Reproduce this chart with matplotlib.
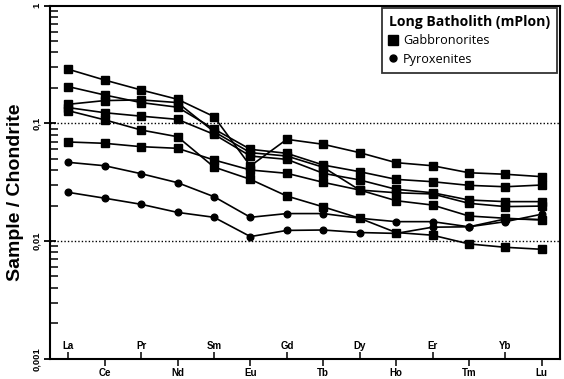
"""
REE spider diagram (chondrite normalised) for the Long Batholith (mPlon)
gabbronorites and pyroxenites.
"""
import matplotlib
matplotlib.use("Agg")
import matplotlib.pyplot as plt
from matplotlib.lines import Line2D
from matplotlib.ticker import LogLocator, NullFormatter

# REE order on the x axis
elements = ["La", "Ce", "Pr", "Nd", "Sm", "Eu", "Gd",
            "Tb", "Dy", "Ho", "Er", "Tm", "Yb", "Lu"]

# Gabbronorites (sample / chondrite)
gabbro_1 = [0.288, 0.233, 0.192, 0.160, 0.114, 0.0434, 0.0731,
            0.0663, 0.0563, 0.0463, 0.0436, 0.0380, 0.0369, 0.0352]
gabbro_2 = [0.205, 0.174, 0.150, 0.137, 0.0895, 0.0601, 0.0556,
            0.0442, 0.0388, 0.0334, 0.0319, 0.0297, 0.0289, 0.0299]
gabbro_3 = [0.145, 0.156, 0.158, 0.150, 0.0849, 0.0563, 0.0527,
            0.0423, 0.0271, 0.0257, 0.0251, 0.0209, 0.0196, 0.0198]
gabbro_4 = [0.136, 0.123, 0.115, 0.108, 0.0806, 0.0527, 0.0494,
            0.0376, 0.0330, 0.0275, 0.0257, 0.0223, 0.0216, 0.0216]
gabbro_5 = [0.128, 0.107, 0.0877, 0.0769, 0.0425, 0.0334, 0.0241,
            0.0195, 0.0156, 0.0118, 0.0112, 0.00944, 0.00884, 0.00850]
gabbro_6 = [0.0694, 0.0676, 0.0633, 0.0613, 0.0488, 0.0401, 0.0376,
            0.0315, 0.0271, 0.0220, 0.0202, 0.0163, 0.0156, 0.0151]

# Pyroxenites
pyrox_1 = [0.0466, 0.0436, 0.0373, 0.0313, 0.0238, 0.0159, 0.0171,
           0.0171, 0.0156, 0.0146, 0.0146, 0.0132, 0.0146, 0.0169]
pyrox_2 = [0.0259, 0.0231, 0.0205, 0.0175, 0.0159, 0.0109, 0.0123,
           0.0124, 0.0118, 0.0116, 0.0131, 0.0132, 0.0154, 0.0152]

gabbros = [gabbro_1, gabbro_2, gabbro_3, gabbro_4, gabbro_5, gabbro_6]
pyroxs = [pyrox_1, pyrox_2]

y_ticks = [0.001, 0.01, 0.1, 1]
y_tick_labels = ["0,001", "0,01", "0,1", "1"]
ref_lines = [0.1, 0.01]


def main():
    fig = plt.figure(figsize=(5.64, 3.79), dpi=100)
    ax = fig.add_axes([0.0887, 0.0536, 0.9043, 0.9316])

    x = list(range(len(elements)))

    for yv in ref_lines:
        ax.axhline(yv, color="black", linestyle=(0, (1, 1.5)), linewidth=1.0, zorder=1)

    for vals in gabbros:
        ax.plot(x, vals, color="black", linewidth=1.2, marker="s",
                markersize=5.5, zorder=3)
    for vals in pyroxs:
        ax.plot(x, vals, color="black", linewidth=1.2, marker="o",
                markersize=4.8, zorder=3)

    ax.set_yscale("log")
    ax.set_ylim(0.001, 1)
    ax.set_xlim(-0.5, len(elements) - 0.5)

    # y axis ticks
    ax.set_yticks(y_ticks)
    ax.set_yticklabels(y_tick_labels, rotation=90, va="center",
                       fontsize=6.8, fontweight="bold", family="Liberation Sans")
    ax.yaxis.set_minor_locator(LogLocator(base=10, subs=range(2, 10)))
    ax.yaxis.set_minor_formatter(NullFormatter())
    ax.tick_params(axis="y", which="major", direction="inout", length=9,
                   width=1.3, pad=2)
    ax.tick_params(axis="y", which="minor", direction="in", length=6, width=1.1)

    # x axis: alternate labels, half inside, half outside
    ax.set_xticks(x[1::2])
    ax.set_xticklabels(elements[1::2], fontsize=7, fontweight="bold",
                       family="Liberation Sans")
    ax.set_xticks(x[0::2], minor=True)
    ax.set_xticklabels(elements[0::2], minor=True, fontsize=7,
                       fontweight="bold", family="Liberation Sans")
    ax.tick_params(axis="x", which="major", direction="out", length=5,
                   width=1.1, pad=2)
    ax.tick_params(axis="x", which="minor", direction="in", length=5,
                   width=1.1, pad=-13)

    for sp in ax.spines.values():
        sp.set_linewidth(1.5)

    ax.set_ylabel("Sample / Chondrite", fontsize=14, fontweight="bold",
                  family="Liberation Sans")
    ax.yaxis.set_label_coords(-0.052, 0.47)

    handles = [
        Line2D([], [], color="black", marker="s", linestyle="none", markersize=6.5),
        Line2D([], [], color="black", marker="o", linestyle="none", markersize=5),
    ]
    leg = ax.legend(handles, ["Gabbronorites", "Pyroxenites"],
                    title="Long Batholith (mPlon)", loc="upper right",
                    bbox_to_anchor=(0.994, 0.993), borderaxespad=0,
                    frameon=True, fancybox=False,
                    handlelength=0.6, handletextpad=0.5, borderpad=0.55,
                    labelspacing=0.42, prop={"family": "Open Sans", "size": 9.1})
    leg.get_title().set_fontweight("bold")
    leg.get_title().set_fontsize(10.1)
    leg.get_title().set_family("Open Sans")
    leg._legend_box.align = "left"
    leg.get_frame().set_edgecolor("black")
    leg.get_frame().set_linewidth(1.3)

    fig.savefig("out.png", dpi=100)


if __name__ == "__main__":
    main()
